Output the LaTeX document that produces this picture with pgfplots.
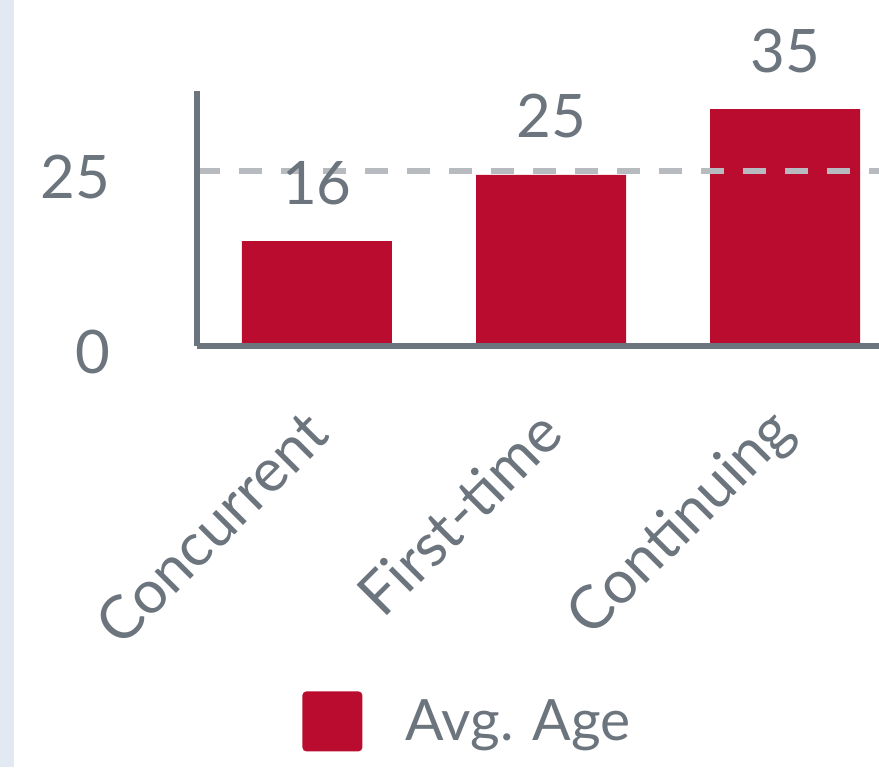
\documentclass[border=0pt]{standalone}
\usepackage{pgfplots}
\pgfplotsset{compat=1.18}
\usepackage{fontspec}
\setmainfont{Lato}
\definecolor{barred}{HTML}{BA0C2F}
\definecolor{txtgray}{HTML}{6C757D}
\definecolor{gridgray}{HTML}{B7BBBF}
\definecolor{strip}{HTML}{E2E9F2}
\begin{document}
\begin{tikzpicture}
\path[use as bounding box] (0,0) rectangle (439.5pt,383.5pt);
\fill[strip] (0,0) rectangle (7pt,383.5pt);
\begin{axis}[
  at={(98.5pt,210.5pt)}, anchor=south west,
  scale only axis, width=341pt, height=127.5pt,
  xmin=-0.5128, xmax=2.4017, ymin=0, ymax=36.49,
  clip=false, axis on top,
  axis x line=bottom, axis y line=left,
  axis line style={-, line width=3pt, color=txtgray},
  major tick length=0pt,
  xtick={0,1,2}, xticklabels={Concurrent,First-time,Continuing},
  ytick={0,25},
  /pgf/number format/assume math mode=true,
  ymajorgrids, grid style={line width=3pt, color=gridgray, dash pattern=on 11.5pt off 9.5pt},
  tick label style={font=\fontsize{30}{36}\selectfont, color=txtgray, inner sep=0pt},
  y tick label style={anchor=east, xshift=-43pt, yshift=-3pt},
  x tick label style={yshift=-38pt, rotate=45, anchor=east},
  ybar, bar width=75pt,
  nodes near coords, point meta=explicit symbolic,
  every node near coord/.append style={font=\fontsize{30}{36}\selectfont, color=txtgray, anchor=south, inner sep=0pt, yshift=18pt},
  legend style={at={(0.15396,-1.3529)}, anchor=north west, draw=none, fill=none, inner sep=0pt,
    nodes={inner sep=0pt, font=\fontsize{28.5}{34}\selectfont, text=txtgray, yshift=11.5pt}, column sep=21.5pt},
  legend image code/.code={\fill[barred, rounded corners=2pt] (0pt,-3.5pt) rectangle (30pt,26.5pt);},
]
\addplot[fill=barred, draw=none] coordinates {(0,15.0) [16] (1,24.5) [25] (2,33.9) [35]};
\addlegendentry{Avg. Age}
\end{axis}
\end{tikzpicture}
\end{document}
